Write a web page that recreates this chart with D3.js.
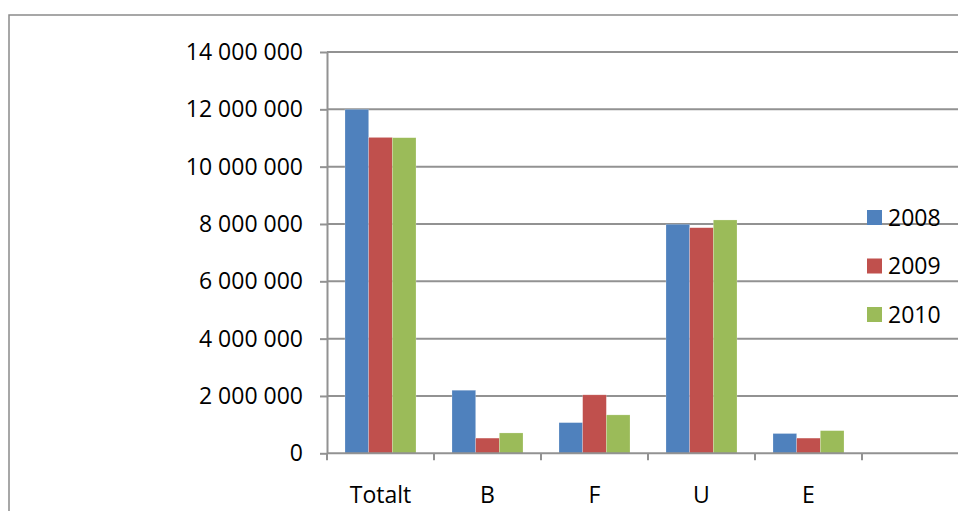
<!DOCTYPE html>
<html><head><meta charset="utf-8">
<script src="https://cdn.jsdelivr.net/npm/d3@7"></script>
<style>html,body{margin:0;padding:0;background:#fff;overflow:hidden}</style>
</head><body>
<svg id="chart" width="958" height="511"></svg>
<script>
const categories = ["Totalt", "B", "F", "U", "E", ""];
const seriesNames = ["2008", "2009", "2010"];
const values2008 = [12000000, 2200000, 1070000, 7990000, 690000, null];
const values2009 = [11020000, 530000, 2040000, 7870000, 530000, null];
const values2010 = [11010000, 710000, 1340000, 8140000, 790000, null];
const yTicks = [0, 2000000, 4000000, 6000000, 8000000, 10000000, 12000000, 14000000];
const colors = ["#4F81BD", "#C0504D", "#9BBB59"];

const seriesValues = [values2008, values2009, values2010];
const font = "'Open Sans', 'Liberation Sans', sans-serif";
const gridColor = "#929292";

const svg = d3.select("#chart");
svg.append("rect").attr("x", 9).attr("y", 15).attr("width", 1000).attr("height", 600)
  .attr("fill", "none").attr("stroke", "#8a8a8a").attr("stroke-width", 1.5);

const plotLeft = 327, band = 107, plotTop = 52, plotBottom = 453.3;
const x = d3.scaleBand().domain(categories).range([plotLeft, plotLeft + band * categories.length]).padding(0);
const x1 = d3.scaleBand().domain(seriesNames).range([18, 89]).padding(0);
const y = d3.scaleLinear().domain([0, 14000000]).range([plotBottom, plotTop]);

const fmt = d3.formatLocale({decimal: ",", thousands: " ", grouping: [3], currency: ["", ""]}).format(",");

// gridlines
svg.append("g").selectAll("line").data(yTicks.filter(d => d > 0)).join("line")
  .attr("x1", plotLeft).attr("x2", 958).attr("y1", d => y(d)).attr("y2", d => y(d))
  .attr("stroke", gridColor).attr("stroke-width", 2);

// bars
const groups = svg.append("g").selectAll("g").data(categories).join("g")
  .attr("transform", d => `translate(${x(d)},0)`);
groups.selectAll("rect").data((c, i) => seriesNames.map((s, j) => ({s, j, v: seriesValues[j][i]})).filter(d => d.v != null))
  .join("rect")
  .attr("x", d => x1(d.s)).attr("width", x1.bandwidth())
  .attr("y", d => y(d.v)).attr("height", d => y(0) - y(d.v))
  .attr("fill", d => colors[d.j])
  .attr("stroke", "rgba(255,255,255,0.35)").attr("stroke-width", 0.6);

// y axis
const yAxis = svg.append("g").attr("transform", `translate(${plotLeft},0)`)
  .call(d3.axisLeft(y).tickValues(yTicks).tickFormat(fmt).tickSize(7).tickPadding(17).tickSizeOuter(0));
yAxis.select(".domain").attr("stroke", gridColor).attr("stroke-width", 2);
yAxis.selectAll(".tick line").attr("stroke", gridColor).attr("stroke-width", 2);
yAxis.selectAll("text").attr("font-family", font).attr("font-size", 23).attr("fill", "#000");

// x axis line
svg.append("line").attr("x1", plotLeft).attr("x2", 958).attr("y1", y(0)).attr("y2", y(0))
  .attr("stroke", gridColor).attr("stroke-width", 2);
const boundaries = categories.map(c => x(c)).concat([x(categories[categories.length - 1]) + x.bandwidth()]);
svg.append("g").selectAll("line").data(boundaries).join("line")
  .attr("x1", d => d).attr("x2", d => d).attr("y1", y(0)).attr("y2", y(0) + 7)
  .attr("stroke", gridColor).attr("stroke-width", 2);
svg.append("g").selectAll("text").data(categories).join("text")
  .attr("x", d => x(d) + x.bandwidth() / 2).attr("y", 503)
  .attr("text-anchor", "middle").attr("font-family", font).attr("font-size", 23).attr("fill", "#000")
  .text(d => d);

// legend
const legend = svg.append("g").selectAll("g").data(seriesNames).join("g")
  .attr("transform", (d, i) => `translate(867,${217.5 + i * 48.5})`);
legend.append("rect").attr("x", 0).attr("y", -7.5).attr("width", 15).attr("height", 15)
  .attr("fill", (d, i) => colors[i]);
legend.append("text").attr("x", 21).attr("y", 0).attr("dy", "0.35em")
  .attr("font-family", font).attr("font-size", 23).attr("fill", "#000").text(d => d);
</script>
</body></html>
